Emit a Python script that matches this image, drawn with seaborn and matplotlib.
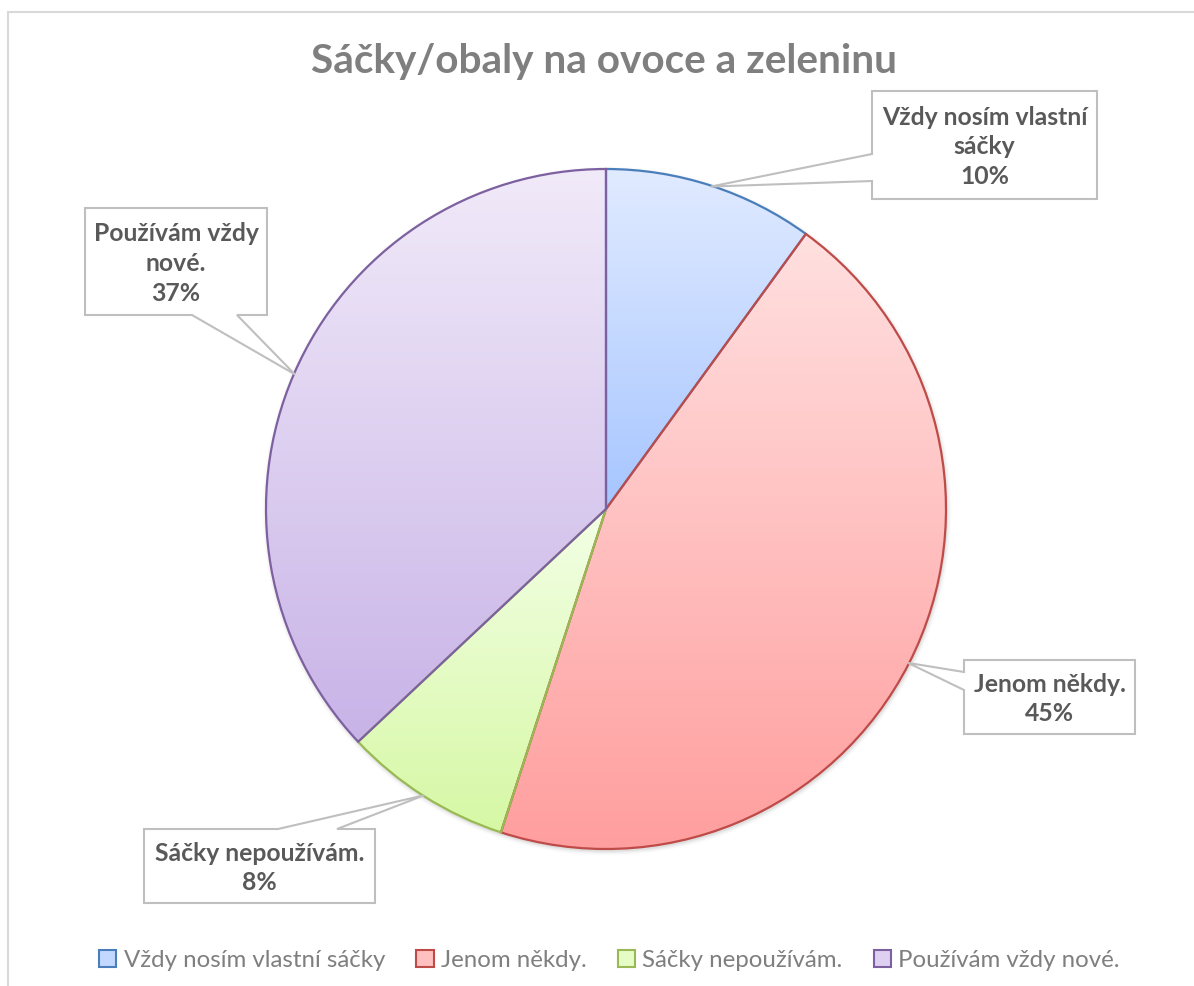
import numpy as np
import matplotlib
matplotlib.use("Agg")
import matplotlib.pyplot as plt
import seaborn as sns
from matplotlib.patches import Polygon, Patch, Circle
from matplotlib.colors import LinearSegmentedColormap

# ---------------- data ----------------
title = "Sáčky/obaly na ovoce a zeleninu"
categories = ["Vždy nosím vlastní sáčky", "Jenom někdy.", "Sáčky nepoužívám.", "Používám vždy nové."]
label_names = ["Vždy nosím vlastní\nsáčky", "Jenom někdy.", "Sáčky nepoužívám.", "Používám vždy\nnové."]
values = [10, 45, 8, 37]

# ---------------- style ----------------
sns.set_theme(style="white")
plt.rcParams["font.family"] = ["Lato", "DejaVu Sans"]

edge_colors = ["#4a7ebb", "#be4b48", "#98b954", "#7d60a0"]
top_colors = ["#e1ebff", "#ffe0e0", "#f3ffe6", "#f1eaf9"]
bottom_colors = ["#a6c5ff", "#ff9e9e", "#d6f8a4", "#c8b3e7"]
legend_face = ["#c3d8ff", "#ffc0c0", "#e6fcc6", "#ddd0f0"]

W, H = 1194, 987
fig = plt.figure(figsize=(W / 100, H / 100), dpi=100)
ax = fig.add_axes([0, 0, 1, 1])


def Y(py):
    return H - py


cx, cy, R = 606, 510, 340

# soft shadow
for i, a in enumerate([0.05, 0.035, 0.025, 0.015]):
    ax.add_patch(Circle((cx + 1, Y(cy) - 2), R + 0.8 + i * 1.2, color="black", alpha=a, lw=0, zorder=1))

wedges, _ = ax.pie(values, startangle=90, counterclock=False, center=(cx, Y(cy)), radius=R,
                   colors=legend_face, wedgeprops=dict(linewidth=1.6), frame=True)

for w, ec, tc, bc in zip(wedges, edge_colors, top_colors, bottom_colors):
    w.set_zorder(4)
    w.set_edgecolor(ec)
    w.set_facecolor("none")
    ext = w.get_path().get_extents()
    cmap = LinearSegmentedColormap.from_list("g", [tc, bc])
    grad = np.linspace(0, 1, 256).reshape(-1, 1)
    im = ax.imshow(grad, cmap=cmap, extent=(ext.x0, ext.x1, ext.y0, ext.y1), origin="upper",
                   aspect="auto", zorder=3, interpolation="bilinear")
    im.set_clip_path(w)

# ---------------- callout labels ----------------
total = sum(values)
boxes = [  # (x0, y0, x1, y1, side, a, b) in pixel coords
    (872, 92, 1097, 200, "left", 155, 182),
    (964, 661, 1135, 735, "left", 673, 691),
    (144, 830, 375, 904, "top", 278, 337),
    (85, 209, 267, 316, "bottom", 192, 237),
]
label_color = "#595959"
for w, name, v, (x0, y0, x1, y1, side, a, b) in zip(wedges, label_names, values, boxes):
    mid = np.deg2rad((w.theta1 + w.theta2) / 2)
    tx = cx + (R - 1) * np.cos(mid)
    ty = cy - (R - 1) * np.sin(mid)
    if side == "left":
        pts = [(x0, y0), (x1, y0), (x1, y1), (x0, y1), (x0, b), (tx, ty), (x0, a)]
    elif side == "top":
        pts = [(x0, y0), (a, y0), (tx, ty), (b, y0), (x1, y0), (x1, y1), (x0, y1)]
    else:
        pts = [(x0, y0), (x1, y0), (x1, y1), (b, y1), (tx, ty), (a, y1), (x0, y1)]
    ax.add_patch(Polygon([(px, Y(py)) for px, py in pts], closed=True, facecolor="white",
                         edgecolor="#bfbfbf", lw=1.5, zorder=6))
    txt = f"{name}\n{v / total * 100:.0f}%"
    ax.text((x0 + x1) / 2, Y((y0 + y1) / 2 + 1), txt, ha="center", va="center", fontsize=17.8,
            fontweight="bold", color=label_color, linespacing=1.35, zorder=7)

# ---------------- title ----------------
ax.text(604, Y(62), title, ha="center", va="center", fontsize=29.2, fontweight="bold",
        color="#7f7f7f", zorder=7)

# ---------------- legend ----------------
handles = [Patch(facecolor=fc, edgecolor=ec, lw=1.5) for fc, ec in zip(legend_face, edge_colors)]
leg = ax.legend(handles, categories, loc="center", bbox_to_anchor=(609.5 / W, 1 - 961 / H),
                ncol=4, frameon=False, fontsize=17.3, handlelength=0.72, handleheight=0.72,
                handletextpad=0.3, columnspacing=1.3, borderaxespad=0)
for t in leg.get_texts():
    t.set_color("#7f7f7f")

# ---------------- frame border ----------------
ax.plot([7.5, 7.5, W + 2], [0 - 2, Y(12.5), Y(12.5)], color="#d9d9d9", lw=1.5, zorder=8,
        solid_joinstyle="miter")

ax.set_xlim(0, W)
ax.set_ylim(0, H)
ax.set_aspect("auto")
ax.axis("off")

fig.savefig("out.png", dpi=100)
